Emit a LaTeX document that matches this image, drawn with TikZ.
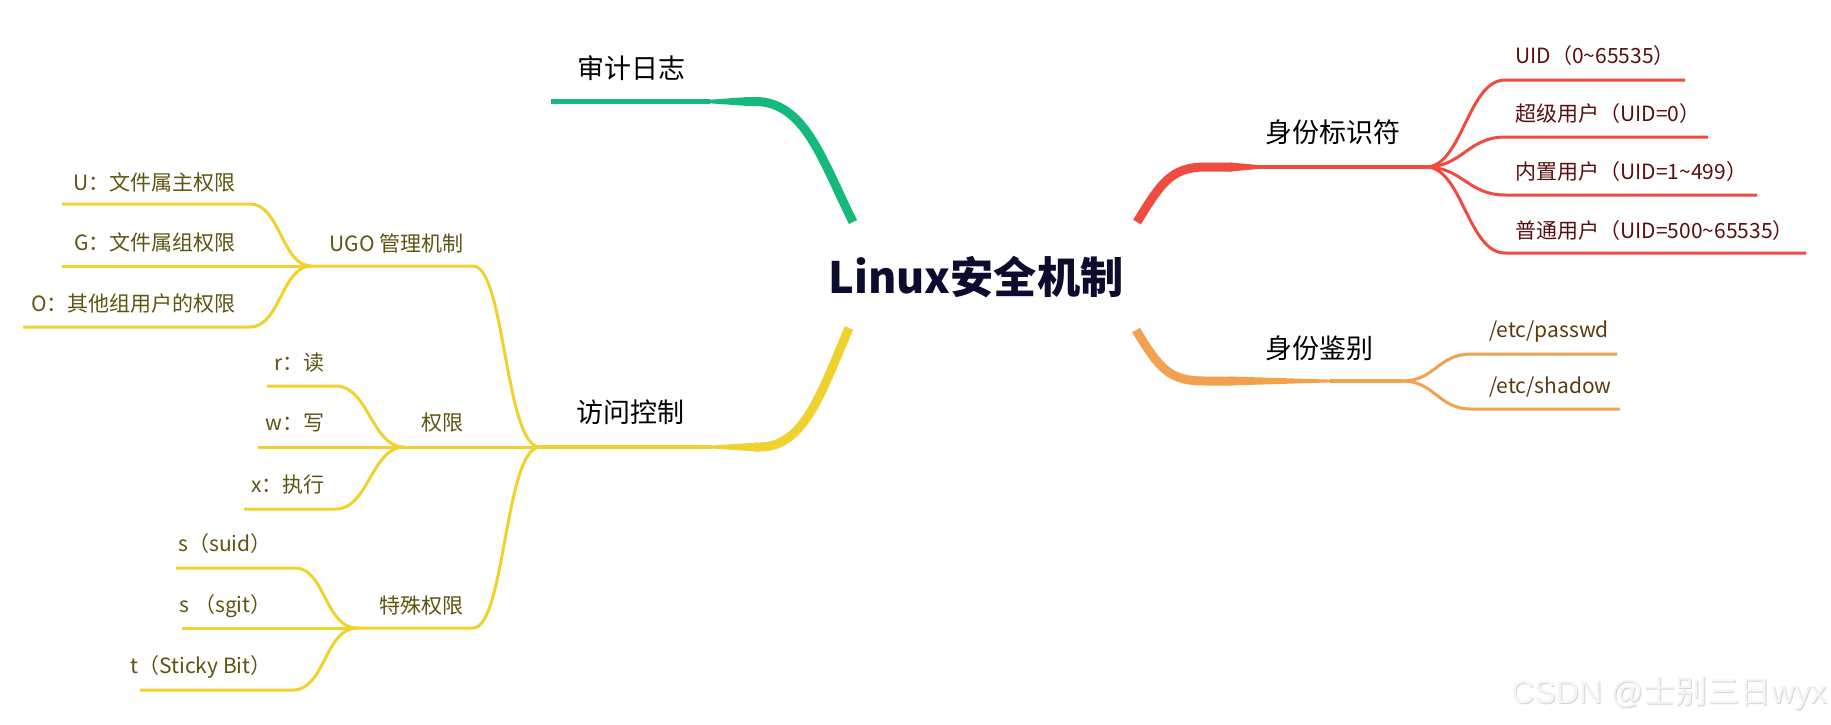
\documentclass[tikz,border=0pt]{standalone}
\usepackage{fontspec}
\setmainfont{Noto Sans CJK SC}
\newfontfamily\wmfont{Liberation Sans}
\definecolor{cgreen}{HTML}{14B97C}
\definecolor{cred}{HTML}{F04B40}
\definecolor{corange}{HTML}{F2A24E}
\definecolor{cyellow}{HTML}{F0D22E}
\definecolor{cnavy}{HTML}{0C0C2E}
\definecolor{tred}{HTML}{5A0F0F}
\definecolor{tbrown}{HTML}{5C3A10}
\definecolor{tolive}{HTML}{5E5510}
\tikzset{
  lone/.style={font=\fontsize{13.5}{14}\selectfont, text=black, inner sep=0},
  ltwo/.style={font=\fontsize{10.5}{11}\selectfont, inner sep=0},
  twig/.style={line width=1.5pt},
  thinpart/.style={line width=2.2pt},
  thickpart/.style={line width=4.5pt},
}
\begin{document}
\begin{tikzpicture}[x=0.5pt,y=-0.5pt]
\useasboundingbox (0,0) rectangle (1831,724);
\fill[white] (0,0) rectangle (1831,724);

% root
\node[font=\fontsize{21.6}{22}\selectfont\bfseries, text=cnavy, inner sep=0] (root) at (976,277) {Linux安全机制};

% ---------------- green: 审计日志
\coordinate (g0) at (853,222);
\coordinate (g1) at (755,101.5);
\coordinate (g2) at (551,101.5);
\draw[cgreen, thickpart] (g0) .. controls (822,160) and (805,101.5) .. (g1) -- (745,101.5);
\fill[cgreen] (700,100.4) -- (748,97) -- (748,106) -- (700,102.6) -- cycle;
\draw[cgreen, thinpart] (g2) -- (710,101.5);
\node[lone, anchor=east] (audit) at (686,68) {审计日志};

% ---------------- red: 身份标识符
\coordinate (r0) at (1137,222);
\coordinate (r1) at (1205,167);
\coordinate (rh) at (1426,167);
\draw[cred, thickpart] (r0) .. controls (1160,185) and (1170,167) .. (r1) -- (1232,167);
\fill[cred] (1230,162.5) -- (1268,165.9) -- (1268,168.1) -- (1230,171.5) -- cycle;
\draw[cred, thinpart] (1260,167) -- (rh);
\node[lone, anchor=west] (ident) at (1265,132) {身份标识符};

\coordinate (ra) at (1505,80);  \coordinate (rae) at (1685,80);
\coordinate (rb) at (1505,137); \coordinate (rbe) at (1708,137);
\coordinate (rc) at (1505,195); \coordinate (rce) at (1757,195);
\coordinate (rd) at (1505,253); \coordinate (rde) at (1806,253);
\draw[cred, twig] (rh) .. controls (1462,167) and (1468,80) .. (ra) -- (rae);
\draw[cred, twig] (rh) .. controls (1462,167) and (1468,137) .. (rb) -- (rbe);
\draw[cred, twig] (rh) .. controls (1462,167) and (1468,195) .. (rc) -- (rce);
\draw[cred, twig] (rh) .. controls (1462,167) and (1468,253) .. (rd) -- (rde);
\node[ltwo, text=tred, anchor=west] (uid) at (1515,56) {UID（0\textasciitilde 65535）};
\node[ltwo, text=tred, anchor=west] (super) at (1515,114) {超级用户（UID=0）};
\node[ltwo, text=tred, anchor=west] (builtin) at (1515,172) {内置用户（UID=1\textasciitilde 499）};
\node[ltwo, text=tred, anchor=west] (normal) at (1515,231) {普通用户（UID=500\textasciitilde 65535）};

% ---------------- orange: 身份鉴别
\coordinate (o0) at (1136,330);
\coordinate (o1) at (1205,381);
\coordinate (oh) at (1402,381);
\draw[corange, thickpart] (o0) .. controls (1160,370) and (1170,381) .. (o1) -- (1232,381);
\fill[corange] (1230,376.5) -- (1340,379.9) -- (1340,382.1) -- (1230,385.5) -- cycle;
\draw[corange, thinpart] (1330,381) -- (oh);
\node[lone, anchor=west] (auth) at (1265,348) {身份鉴别};
\coordinate (oa) at (1471,354); \coordinate (oae) at (1617,354);
\coordinate (ob) at (1471,409); \coordinate (obe) at (1620,409);
\draw[corange, twig] (oh) .. controls (1435,381) and (1438,354) .. (oa) -- (oae);
\draw[corange, twig] (oh) .. controls (1435,381) and (1438,409) .. (ob) -- (obe);
\node[ltwo, text=tbrown, anchor=west] (passwd) at (1489,332) {/etc/passwd};
\node[ltwo, text=tbrown, anchor=west] (shadow) at (1489,387) {/etc/shadow};

% ---------------- yellow: 访问控制
\coordinate (y0) at (849,328);
\coordinate (y1) at (760,447);
\coordinate (yh) at (540,447);
\draw[cyellow, thickpart] (y0) .. controls (822,390) and (805,447) .. (y1) -- (755,447);
\fill[cyellow] (758,442.5) -- (705,445.9) -- (705,448.1) -- (758,451.5) -- cycle;
\draw[cyellow, thinpart] (yh) -- (712,447);
\node[lone, anchor=east] (access) at (685,412) {访问控制};

% UGO
\coordinate (ugo) at (473,266);
\coordinate (ugoh) at (311,266);
\draw[cyellow, twig] (yh) .. controls (505,447) and (505,266) .. (ugo) -- (ugoh);
\node[ltwo, text=tolive, anchor=east] (ugot) at (464,243) {UGO 管理机制};
\coordinate (ua) at (250,204); \coordinate (uae) at (62,204);
\coordinate (ub) at (250,266); \coordinate (ube) at (62,266);
\coordinate (uc) at (250,327); \coordinate (uce) at (23,327);
\draw[cyellow, twig] (ugoh) .. controls (282,266) and (280,204) .. (ua) -- (uae);
\draw[cyellow, twig] (ugoh) -- (ube);
\draw[cyellow, twig] (ugoh) .. controls (282,266) and (280,327) .. (uc) -- (uce);
\node[ltwo, text=tolive, anchor=east] (ut) at (236,182) {U：文件属主权限};
\node[ltwo, text=tolive, anchor=east] (gt) at (236,242) {G：文件属组权限};
\node[ltwo, text=tolive, anchor=east] (ot) at (236,304) {O：其他组用户的权限};

% 权限
\coordinate (permh) at (404,447);
\draw[cyellow, twig] (yh) -- (permh);
\node[ltwo, text=tolive, anchor=east] (permt) at (464,423) {权限};
\coordinate (pa) at (336,386); \coordinate (pae) at (267,386);
\coordinate (pb) at (336,447); \coordinate (pbe) at (258,447);
\coordinate (pc) at (336,509); \coordinate (pce) at (244,509);
\draw[cyellow, twig] (permh) .. controls (372,447) and (368,386) .. (pa) -- (pae);
\draw[cyellow, twig] (permh) -- (pbe);
\draw[cyellow, twig] (permh) .. controls (372,447) and (368,509) .. (pc) -- (pce);
\node[ltwo, text=tolive, anchor=east] (rt) at (325,363) {r：读};
\node[ltwo, text=tolive, anchor=east] (wt) at (325,423) {w：写};
\node[ltwo, text=tolive, anchor=east] (xt) at (325,485) {x：执行};

% 特殊权限
\coordinate (spec) at (473,628);
\coordinate (spech) at (357,628);
\draw[cyellow, twig] (yh) .. controls (505,447) and (505,628) .. (spec) -- (spech);
\node[ltwo, text=tolive, anchor=east] (spect) at (464,606) {特殊权限};
\coordinate (sa) at (295,568); \coordinate (sae) at (176,568);
\coordinate (sb) at (295,628); \coordinate (sbe) at (182,628);
\coordinate (sc) at (293,690); \coordinate (sce) at (140,690);
\draw[cyellow, twig] (spech) .. controls (325,628) and (325,568) .. (sa) -- (sae);
\draw[cyellow, twig] (spech) -- (sbe);
\draw[cyellow, twig] (spech) .. controls (325,628) and (325,690) .. (sc) -- (sce);
\node[ltwo, text=tolive, anchor=east] (suid) at (272,544) {s（suid）};
\node[ltwo, text=tolive, anchor=east] (sgit) at (272,606) {s （sgit）};
\node[ltwo, text=tolive, anchor=east] (sticky) at (272,667) {t（Sticky Bit）};

% watermark
\node[font=\fontsize{16}{16}\selectfont, text=gray!32, anchor=east, inner sep=0] (wmshadow) at (1828,694) {{\wmfont CSDN @}士别三日{\wmfont wyx}};
\node[font=\fontsize{16}{16}\selectfont, text=gray!8, anchor=east, inner sep=0] (wm) at (1827,693) {{\wmfont CSDN @}士别三日{\wmfont wyx}};
\end{tikzpicture}
\end{document}
